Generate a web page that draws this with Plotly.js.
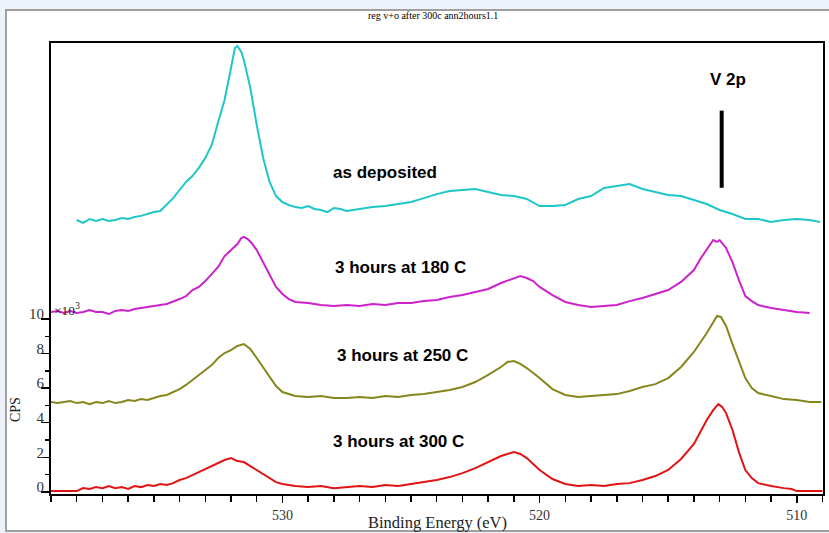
<!DOCTYPE html>
<html>
<head>
<meta charset="utf-8">
<script src="https://cdn.plot.ly/plotly-3.0.1.min.js"></script>
<style>html,body{margin:0;padding:0;background:#eef2fb;}#chart{width:829px;height:533px;}</style>
</head>
<body>
<div id="chart"></div>
<script>
// Binding energy (eV) and CPS (x10^3, offset as plotted)
const asDepE = [538.0,537.75,537.5,537.25,537,536.75,536.5,536.25,536,535.75,535.5,535.25,535,534.75,534.5,534.25,534,533.75,533.5,533.25,533,532.75,532.5,532.25,532,531.85,531.75,531.6,531.5,531.25,531,530.75,530.5,530.25,530,529.75,529.5,529.25,529,528.75,528.5,528.25,528,527.75,527.5,527,526.5,526,525.5,525,524.5,524,523.5,523,522.5,522,521.5,521,520.5,520,519.5,519,518.5,518,517.5,517,516.5,516,515.5,515,514.5,514,513.5,513,512.5,512,511.5,511,510.5,510,509.5,509.1];
const asDepY = [15.75,15.58,15.81,15.69,15.81,15.69,15.75,15.87,15.81,15.93,15.99,16.10,16.21,16.27,16.62,17.02,17.49,17.96,18.30,18.77,19.35,20.10,21.43,22.71,24.56,25.72,25.84,25.49,25.03,23.41,21.26,19.35,17.96,17.14,16.79,16.62,16.50,16.45,16.56,16.39,16.33,16.21,16.45,16.39,16.27,16.39,16.50,16.56,16.68,16.79,17.02,17.25,17.43,17.49,17.55,17.37,17.20,17.14,16.97,16.56,16.56,16.62,16.97,17.14,17.61,17.72,17.84,17.55,17.37,17.20,17.14,16.91,16.68,16.33,16.10,15.81,15.81,15.64,15.75,15.81,15.75,15.64];

const h180E = [539,538.75,538.5,538.25,538,537.75,537.5,537.25,537,536.75,536.5,536.25,536,535.75,535.5,535.25,535,534.5,534,533.75,533.5,533.25,533,532.75,532.5,532.25,532,531.75,531.6,531.5,531.35,531.2,531,530.75,530.5,530.25,530,529.75,529.5,529,528.5,528,527.5,527,526.5,526,525.5,525,524.5,524,523.5,523,522.5,522,521.5,521,520.75,520.5,520.25,520,519.5,519,518.5,518,517.5,517,516.5,516,515.5,515,514.5,514,513.75,513.5,513.25,513.1,513,512.75,512.5,512.25,512,511.75,511.5,511,510.5,510,509.5];
const h180Y = [10.42,10.48,10.36,10.48,10.36,10.42,10.53,10.42,10.42,10.30,10.48,10.53,10.48,10.59,10.65,10.71,10.77,10.88,11.17,11.34,11.69,11.87,12.21,12.62,13.03,13.66,14.01,14.36,14.71,14.77,14.65,14.42,14.01,13.31,12.62,11.87,11.46,11.17,11.00,10.94,10.82,10.77,10.82,10.77,10.88,10.82,10.94,10.94,11.05,11.11,11.29,11.40,11.58,11.75,12.10,12.39,12.50,12.39,12.21,11.87,11.40,11.00,10.82,10.71,10.77,10.82,11.05,11.23,11.46,11.69,12.16,12.85,13.49,14.07,14.59,14.48,14.59,14.13,13.31,12.27,11.34,11.05,10.82,10.65,10.53,10.42,10.36];

const h250E = [539,538.75,538.5,538.25,538,537.75,537.5,537.25,537,536.75,536.5,536.25,536,535.75,535.5,535.25,535,534.75,534.5,534.25,534,533.75,533.5,533.25,533,532.75,532.5,532.25,532,531.75,531.5,531.25,531,530.75,530.5,530.25,530,529.75,529.5,529,528.5,528,527.5,527,526.5,526,525.5,525,524.5,524,523.5,523,522.5,522,521.5,521.25,521,520.75,520.5,520,519.5,519,518.5,518,517.5,517,516.5,516,515.5,515,514.5,514,513.5,513.25,513.1,512.95,512.75,512.5,512.25,512,511.75,511.5,511,510.5,510,509.5,509.05];
const h250Y = [5.20,5.14,5.20,5.26,5.14,5.20,5.08,5.20,5.14,5.26,5.14,5.20,5.32,5.26,5.37,5.32,5.43,5.55,5.61,5.78,5.95,6.19,6.48,6.77,7.05,7.34,7.75,8.04,8.21,8.45,8.56,8.27,7.75,7.23,6.65,6.13,5.78,5.66,5.55,5.49,5.55,5.43,5.43,5.49,5.43,5.55,5.49,5.61,5.66,5.78,5.90,6.07,6.36,6.77,7.23,7.52,7.58,7.41,7.17,6.59,5.95,5.61,5.49,5.55,5.61,5.66,5.84,6.07,6.24,6.59,7.23,8.10,9.20,9.84,10.19,10.13,9.61,8.56,7.52,6.59,6.01,5.72,5.55,5.37,5.32,5.20,5.20];

const h300E = [539,538.5,538,537.75,537.5,537.25,537,536.75,536.5,536.25,536,535.75,535.5,535.25,535,534.75,534.5,534.25,534,533.75,533.5,533.25,533,532.75,532.5,532.25,532,531.75,531.5,531.25,531,530.75,530.5,530.25,530,529.5,529,528.5,528,527.5,527,526.5,526,525.5,525,524.5,524,523.5,523,522.5,522,521.5,521.25,521,520.75,520.5,520.25,520,519.5,519,518.5,518,517.5,517,516.5,516,515.5,515,514.5,514,513.75,513.5,513.25,513.05,512.9,512.75,512.5,512.25,512,511.75,511.5,511,510.5,510.2,510,509.5,509];
const h300Y = [0.04,0.04,0.04,0.21,0.16,0.27,0.21,0.33,0.21,0.27,0.16,0.33,0.27,0.39,0.33,0.45,0.39,0.50,0.68,0.79,0.97,1.14,1.32,1.49,1.66,1.84,1.95,1.78,1.72,1.49,1.26,1.03,0.79,0.56,0.45,0.33,0.27,0.33,0.21,0.27,0.33,0.27,0.39,0.33,0.45,0.56,0.68,0.85,1.08,1.37,1.72,2.07,2.19,2.30,2.19,1.95,1.61,1.26,0.74,0.45,0.33,0.39,0.33,0.45,0.50,0.68,0.91,1.26,1.90,2.77,3.46,4.16,4.73,5.08,4.91,4.56,3.58,2.30,1.26,0.79,0.50,0.33,0.21,0.16,0.04,0.04,0.04];

const seriesNames = ['as deposited','3 hours at 180 C','3 hours at 250 C','3 hours at 300 C'];
const seriesColors = ['#1ec6c8','#cc22cc','#86861c','#e01414'];
const xTickVals = [510,520,530];
const yTickVals = [0,2,4,6,8,10];
const yMinorVals = [1,3,5,7,9];

// label anchor positions (data coords)
const labelE = [526.0,525.4,525.35,525.5];
const labelY = [18.53,12.97,7.87,2.94];

const serif = '"Liberation Serif","Times New Roman",serif';
const sans = '"Liberation Sans",Arial,sans-serif';

const xs = [asDepE,h180E,h250E,h300E];
const ys = [asDepY,h180Y,h250Y,h300Y];
const traces = xs.map((x,i)=>({
  x:x, y:ys[i], type:'scatter', mode:'lines', name:seriesNames[i],
  line:{color:seriesColors[i], width:2}, hoverinfo:'skip'
}));

const annotations = seriesNames.map((n,i)=>({
  x:labelE[i], y:labelY[i], xref:'x', yref:'y', text:'<b>'+n+'</b>', showarrow:false,
  font:{family:sans, size:17, color:'#000'}, xanchor:'center', yanchor:'middle'
}));
annotations.push(
  {x:512.68, y:23.92, xref:'x', yref:'y', xanchor:'center', yanchor:'middle', text:'<b>V 2p</b>', showarrow:false, font:{family:sans,size:17,color:'#000'}},
  {x:0.4948, y:1.0599, xref:'paper', yref:'paper', xanchor:'center', yanchor:'middle', text:'reg v+o after 300c ann2hours1.1', showarrow:false, font:{family:serif,size:10,color:'#000'}},
  {x:0.5, y:-0.064, xref:'paper', yref:'paper', xanchor:'center', yanchor:'middle', text:'Binding Energy (eV)', showarrow:false, font:{family:serif,size:16.5,color:'#222'}},
  {x:-0.0453, y:0.1863, xref:'paper', yref:'paper', xanchor:'center', yanchor:'middle', text:'CPS', textangle:-90, showarrow:false, font:{family:serif,size:14,color:'#222'}},
  {x:0.0015, y:0.408, xref:'paper', yref:'paper', xanchor:'left', yanchor:'middle', text:'×10<sup>3</sup>', showarrow:false, font:{family:serif,size:13.5,color:'#222'}}
);

const layout = {
  width:829, height:533,
  margin:{l:51, r:6, t:43, b:39},
  paper_bgcolor:'#eef2fb', plot_bgcolor:'rgba(0,0,0,0)',
  showlegend:false,
  xaxis:{
    range:[539,508.98], showgrid:false, zeroline:false,
    showline:true, mirror:true, linecolor:'#000', linewidth:2,
    tickmode:'array', tickvals:xTickVals, ticktext:xTickVals.map(String),
    ticks:'outside', ticklen:7, tickwidth:1.5, tickcolor:'#000',
    minor:{dtick:1, tick0:509, ticks:'outside', ticklen:6, tickwidth:1.5, tickcolor:'#000', showgrid:false},
    tickfont:{family:serif, size:14, color:'#333'}
  },
  yaxis:{
    range:[-0.13,26.01], showgrid:false, zeroline:false,
    showline:true, mirror:true, linecolor:'#000', linewidth:2,
    tickmode:'array', tickvals:yTickVals, ticktext:yTickVals.map(String),
    ticks:'outside', ticklen:8, tickwidth:1.5, tickcolor:'#000',
    minor:{tickmode:'array', tickvals:yMinorVals, ticks:'outside', ticklen:4, tickwidth:1.5, tickcolor:'#000', showgrid:false},
    tickfont:{family:serif, size:15, color:'#333'},
    ticklabelshift:-5, ticklabelstandoff:-6
  },
  shapes:[
    {type:'rect', xref:'paper', yref:'paper', x0:-0.0583, x1:1.02, y0:-0.082, y1:1.0732, fillcolor:'#ffffff', line:{color:'#a0a0a0', width:2}, layer:'below'},
    {type:'line', xref:'x', yref:'y', x0:512.92, x1:512.92, y0:17.62, y1:22.09, line:{color:'#000', width:4}}
  ],
  annotations:annotations
};

Plotly.newPlot('chart', traces, layout, {staticPlot:true, displayModeBar:false});
</script>
</body>
</html>
